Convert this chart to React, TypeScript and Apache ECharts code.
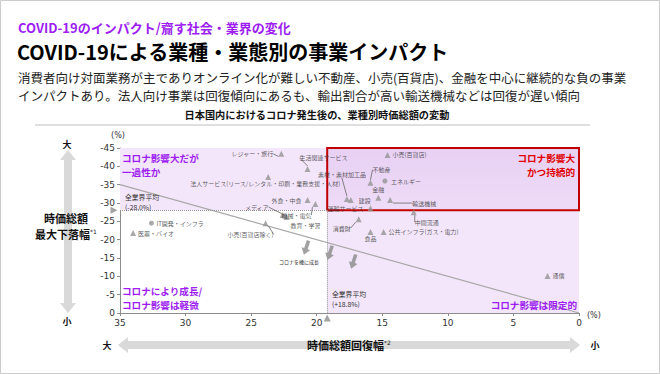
import React, { useEffect, useRef } from "react";
import * as echarts from "echarts";

// ---------- data ----------
const industries = [
  "レジャー・旅行",
  "生活関連サービス",
  "法人サービス(リース/レンタル・印刷・業務支援・人材)",
  "外食・中食",
  "機械・電気",
  "メディア",
  "教育・学習",
  "小売(百貨店除く)",
  "IT開発・インフラ",
  "医薬・バイオ",
  "小売(百貨店)",
  "不動産",
  "エネルギー",
  "金融",
  "建設",
  "素材・素材加工品",
  "運輸サービス",
  "輸送機械",
  "中間流通",
  "消費財",
  "食品",
  "公共インフラ(ガス・電力)",
  "通信",
];
// 時価総額回復幅 (%)
const recovery = [22.7, 20.7, 23.7, 20.7, 20.1, 22.6, 22.3, 23.9, 32.6, 34.0, 14.6, 15.9, 14.8, 15.3, 17.4, 17.7, 15.9, 14.4, 12.6, 16.8, 15.9, 14.9, 2.4];
// 時価総額最大下落幅 (%)
const drawdown = [-43.4, -39.3, -37.1, -30.8, -29.7, -26.7, -26.2, -24.5, -24.5, -21.8, -43.1, -35.5, -36.0, -31.4, -30.8, -31.1, -28.6, -30.8, -27.5, -25.6, -22.1, -22.1, -10.1];
const markerKinds = ["triangle", "triangle", "triangle", "triangle", "triangle", "triangle", "triangle", "triangle", "circle", "triangle", "triangle", "triangle", "circle", "triangle", "triangle", "triangle", "triangle", "triangle", "triangle", "triangle", "triangle", "triangle", "triangle"];

const avgRecovery = 19.2; // 全業界平均 (+18.8%)
const avgDrawdown = -28.0; // 全業界平均 (-28.0%)
const diagonalX = [35, 0];
const diagonalY = [-35, 0];
const growthArrowX = [20.8, 19.0, 17.2];
const growthArrowY = [-17.8, -16.4, -14.0];
const xMin = 0, xMax = 35, yMin = -45, yMax = 0, tickStep = 5;

// ---------- label layout (style, not data) ----------
type Place = { dx: number; dy: number; align: "left" | "right" | "center"; leader: boolean };
const placements: Place[] = [
  { dx: -8, dy: 0, align: "right", leader: true },
  { dx: 16, dy: -11, align: "center", leader: true },
  { dx: -3, dy: 7, align: "center", leader: false },
  { dx: -6, dy: 0, align: "right", leader: false },
  { dx: -19, dy: 11, align: "center", leader: true },
  { dx: -14, dy: -8, align: "right", leader: true },
  { dx: 19, dy: 9, align: "center", leader: false },
  { dx: -15, dy: 11, align: "center", leader: true },
  { dx: 5, dy: 0, align: "left", leader: false },
  { dx: 5, dy: 0, align: "left", leader: false },
  { dx: 5, dy: 0, align: "left", leader: false },
  { dx: 11, dy: -13, align: "center", leader: true },
  { dx: 6, dy: 0, align: "left", leader: false },
  { dx: 0, dy: -8, align: "center", leader: false },
  { dx: 8, dy: 0, align: "left", leader: false },
  { dx: -5, dy: -24, align: "center", leader: true },
  { dx: -7, dy: 0, align: "right", leader: false },
  { dx: 22, dy: 3, align: "left", leader: true },
  { dx: 13, dy: 10, align: "center", leader: true },
  { dx: -17, dy: 9, align: "center", leader: true },
  { dx: 0, dy: 7, align: "center", leader: false },
  { dx: 5, dy: 0, align: "left", leader: false },
  { dx: 5, dy: 0, align: "left", leader: false },
];

const JP = '"Noto Sans CJK JP", "Noto Sans", sans-serif';
const NUM = '"DejaVu Sans", Verdana, sans-serif';
const PURPLE = "#9d1df2";
const RED = "#e00000";
const LAVENDER = "#f4e6fa";
const ARROW_PATH = "path://M3,0 L7,0 L7,9 L10,9 L5,16 L0,9 L3,9 Z";

function txt(text: string, x: number, y: number, size: number, opts: any = {}) {
  return {
    type: "text",
    x,
    y,
    z: opts.z ?? 50,
    style: {
      text,
      fill: opts.color ?? "#222",
      fontSize: size,
      fontWeight: opts.bold ? "bold" : "normal",
      fontFamily: opts.family ?? JP,
      align: opts.align ?? "left",
      verticalAlign: opts.valign ?? "middle",
      rich: opts.rich,
    },
  };
}

export default function App() {
  const ref = useRef<HTMLDivElement>(null);
  useEffect(() => {
    if (!ref.current) return;
    const chart = echarts.init(ref.current, undefined, { renderer: "svg" });

    const points = industries.map((name, i) => ({
      name,
      value: [recovery[i], drawdown[i]],
      symbol: markerKinds[i],
      symbolSize: markerKinds[i] === "circle" ? 5 : 6,
      labelLine: { show: placements[i].leader },
    }));

    const supRich = (size: number) => ({
      a: { fontSize: size, fontWeight: "bold", fontFamily: JP, fill: "#111" },
      s: { fontSize: 6, fontFamily: NUM, fill: "#111", verticalAlign: "top" },
    });

    const option: any = {
      animation: false,
      backgroundColor: "#ffffff",
      grid: { left: 120, right: 81, top: 148, bottom: 61 },
      xAxis: {
        type: "value",
        min: xMin,
        max: xMax,
        interval: tickStep,
        inverse: true,
        axisLine: { show: true, onZero: false, lineStyle: { color: "#8c8c8c" } },
        axisTick: { show: true, length: 3, lineStyle: { color: "#8c8c8c" } },
        axisLabel: { fontSize: 9, color: "#333", fontFamily: NUM, margin: 5 },
        splitLine: { show: false },
      },
      yAxis: {
        type: "value",
        min: yMin,
        max: yMax,
        interval: tickStep,
        inverse: true,
        axisLine: { show: true, onZero: false, lineStyle: { color: "#8c8c8c" } },
        axisTick: { show: true, length: 3, lineStyle: { color: "#8c8c8c" } },
        axisLabel: { fontSize: 9, color: "#333", fontFamily: NUM, margin: 5 },
        splitLine: { show: false },
      },
      series: [
        {
          type: "line",
          z: 1,
          silent: true,
          symbol: "none",
          data: diagonalX.map((x, i) => [x, diagonalY[i]]),
          lineStyle: { color: "#a8a8a8", width: 1.2 },
          markArea: {
            silent: true,
            data: [
              [
                { xAxis: xMax, yAxis: yMin, itemStyle: { color: LAVENDER } },
                { xAxis: avgRecovery, yAxis: avgDrawdown },
              ],
              [
                { xAxis: avgRecovery, yAxis: avgDrawdown, itemStyle: { color: LAVENDER } },
                { xAxis: xMin, yAxis: yMax },
              ],
              [
                {
                  xAxis: avgRecovery,
                  yAxis: yMin,
                  itemStyle: {
                    color: new echarts.graphic.LinearGradient(0, 0, 0, 1, [
                      { offset: 0, color: "#e8d0f3" },
                      { offset: 1, color: "#eedcf7" },
                    ]),
                    borderColor: "#c00000",
                    borderWidth: 2,
                  },
                },
                { xAxis: xMin, yAxis: avgDrawdown },
              ],
            ],
          },
          markLine: {
            silent: true,
            symbol: "none",
            label: { show: false },
            lineStyle: { color: "#999", type: "dotted", width: 1 },
            data: [
              [
                { coord: [xMax, avgDrawdown] },
                { coord: [avgRecovery, avgDrawdown] },
              ],
              [
                { coord: [avgRecovery, avgDrawdown] },
                { coord: [avgRecovery, yMax] },
              ],
            ],
          },
        },
        {
          type: "scatter",
          z: 5,
          data: points,
          itemStyle: { color: "#939393" },
          label: {
            show: true,
            formatter: "{b}",
            fontSize: 6,
            color: "#333",
            fontFamily: JP,
          },
          labelLine: { show: false, lineStyle: { color: "#666", width: 0.8 } },
          labelLayout: (p: any) => {
            const s = placements[p.dataIndex];
            const cx = p.rect.x + p.rect.width / 2;
            const cy = p.rect.y + p.rect.height / 2;
            return { x: cx + s.dx, y: cy + s.dy, align: s.align, verticalAlign: "middle" };
          },
        },
        {
          type: "scatter",
          z: 4,
          silent: true,
          clip: false,
          itemStyle: { color: "#8c8c8c" },
          data: [
            { value: [xMax, avgDrawdown], symbol: "triangle", symbolRotate: -90, symbolSize: 7, symbolOffset: [-6, 0] },
            { value: [avgRecovery, yMax], symbol: "triangle", symbolSize: 7, symbolOffset: [0, 5] },
          ],
        },
        {
          type: "scatter",
          z: 4,
          silent: true,
          symbol: ARROW_PATH,
          symbolSize: [9, 15],
          symbolRotate: -18,
          itemStyle: { color: "#8a8a8a" },
          data: growthArrowX.map((x, i) => [x, growthArrowY[i]]),
        },
      ],
      graphic: [
        {
          type: "rect",
          z: 0,
          shape: { x: 0.5, y: 0.5, width: 659, height: 373 },
          style: { fill: "none", stroke: "#cccccc", lineWidth: 1 },
        },
        txt("COVID-19のインパクト/齎す社会・業界の変化", 18, 27, 13, { bold: true, color: PURPLE }),
        txt("COVID-19による業種・業態別の事業インパクト", 17, 51.5, 20, { bold: true, color: "#000" }),
        txt("消費者向け対面業務が主でありオンライン化が難しい不動産、小売(百貨店)、金融を中心に継続的な負の事業", 18, 77, 12.5, { color: "#222" }),
        txt("インパクトあり。法人向け事業は回復傾向にあるも、輸出割合が高い輸送機械などは回復が遅い傾向", 18, 95, 12.5, { color: "#222" }),
        txt("日本国内におけるコロナ発生後の、業種別時価総額の変動", 317, 114, 10.2, { bold: true, color: "#111", align: "center" }),
        {
          type: "line",
          shape: { x1: 35, y1: 125, x2: 590, y2: 125 },
          style: { stroke: "#bfbfbf", lineWidth: 1 },
        },
        txt("(%)", 118, 135, 8, { color: "#333", family: NUM, align: "center" }),
        txt("(%)", 587, 315, 8, { color: "#333", family: NUM }),
        {
          type: "polygon",
          z: 10,
          shape: {
            points: [[68, 150], [76, 160], [72, 160], [72, 303], [76, 303], [68, 313], [60, 303], [64, 303], [64, 160], [60, 160]],
          },
          style: { fill: "#d9d9d9" },
        },
        {
          type: "polygon",
          z: 10,
          shape: {
            points: [[118, 345], [128, 337], [128, 341], [570, 341], [570, 337], [580, 345], [570, 353], [570, 349], [128, 349], [128, 353]],
          },
          style: { fill: "#d9d9d9" },
        },
        txt("大", 67, 144, 9, { bold: true, color: "#111", align: "center" }),
        txt("小", 67, 321, 9, { bold: true, color: "#111", align: "center" }),
        txt("大", 107, 345, 9, { bold: true, color: "#111", align: "center" }),
        txt("小", 595, 345, 9, { bold: true, color: "#111", align: "center" }),
        txt("時価総額", 66, 218, 11, { bold: true, color: "#111", align: "center" }),
        txt("{a|最大下落幅}{s|*1}", 66, 234, 11, { align: "center", rich: supRich(11) }),
        txt("{a|時価総額回復幅}{s|*2}", 349, 345, 11, { align: "center", rich: supRich(11) }),
        // quadrant notes
        txt("コロナ影響大だが", 122, 157.5, 9.6, { bold: true, color: PURPLE }),
        txt("一過性か", 122, 171.5, 9.6, { bold: true, color: PURPLE }),
        txt("コロナにより成長/", 122, 290.5, 9.6, { bold: true, color: PURPLE }),
        txt("コロナ影響は軽微", 122, 304.5, 9.6, { bold: true, color: PURPLE }),
        txt("コロナ影響大", 575, 157.5, 9.6, { bold: true, color: RED, align: "right" }),
        txt("かつ持続的", 575, 171.5, 9.6, { bold: true, color: RED, align: "right" }),
        txt("コロナ影響は限定的", 577, 305, 9.6, { bold: true, color: PURPLE, align: "right" }),
        txt("全業界平均", 125, 196.5, 6.8, { color: "#333" }),
        txt("(-28.0%)", 125, 207, 6.8, { color: "#333" }),
        txt("全業界平均", 332, 293.5, 6.8, { color: "#333" }),
        txt("(+18.8%)", 332, 304, 6.8, { color: "#333" }),
        txt("コロナを機に成長", 299, 261, 5, { color: "#333", align: "center" }),
      ],
    };

    chart.setOption(option);
    return () => chart.dispose();
  }, []);

  return (
    <div
      ref={ref}
      style={{ position: "absolute", left: 0, top: 0, width: 660, height: 374 }}
    />
  );
}
